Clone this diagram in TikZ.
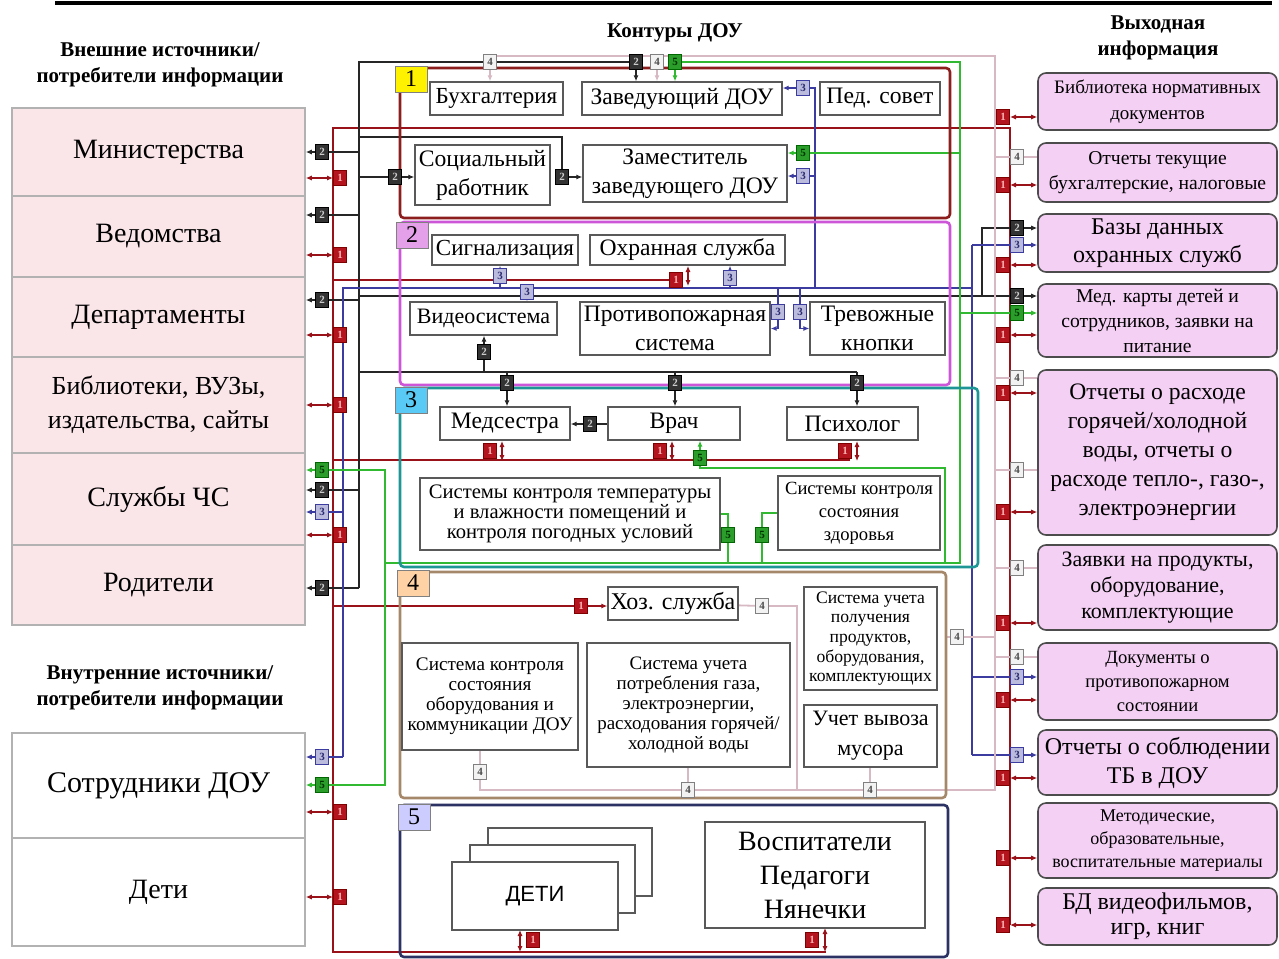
\documentclass[tikz,border=0pt]{standalone}
\usepackage{fontspec}
\setmainfont{Liberation Serif}
\newfontfamily\detifont{Liberation Sans}
\usetikzlibrary{arrows.meta,fit}

\newcommand\fsz[2]{\fontsize{#1}{#2}\selectfont}

\definecolor{srcpink}{RGB}{250,229,233}
\definecolor{outpink}{RGB}{245,208,245}
\definecolor{kred}{RGB}{140,30,30}
\definecolor{kmag}{RGB}{205,85,215}
\definecolor{kteal}{RGB}{30,150,150}
\definecolor{ktan}{RGB}{165,135,105}
\definecolor{knavy}{RGB}{45,50,100}
\definecolor{busred}{RGB}{180,20,30}
\definecolor{busblue}{RGB}{60,60,160}
\definecolor{busgreen}{RGB}{50,185,50}
\definecolor{busgray}{RGB}{215,185,195}

\pgfdeclarelayer{wires}
\pgfsetlayers{wires,main}

\tikzset{
  >={Latex[length=3pt,width=2.6pt]},
  head/.style={align=center, font=\bfseries\fsz{10.5}{13}},
  src/.style={draw=gray!60, line width=0.8pt, fill=srcpink, inner sep=0pt},
  outbox/.style={draw=black!70, line width=0.8pt, rounded corners=4pt, fill=outpink, inner sep=0pt},
  kont/.style={draw, line width=1.3pt, rounded corners=2pt, inner sep=0pt},
  klab/.style={draw=black!50, inner sep=0pt, minimum width=16pt, minimum height=13pt, font=\fsz{12}{12}},
  inbox/.style={draw=black!65, line width=0.7pt, fill=white, inner sep=0pt},
  % тексты в блоках
  srctx/.style={align=center, inner sep=0pt, font=\fsz{14}{17}},
  outtx/.style={align=center, inner sep=0pt},
  intx/.style={align=center, inner sep=0pt, font=\fsz{11.8}{14.5}},
  % метки шин
  tg/.style={draw, line width=0.5pt, inner sep=0pt, minimum width=6.5pt, minimum height=7.5pt, font=\bfseries\fsz{5.5}{6}},
  t1/.style={tg, draw=red!50!black, fill=busred, text=white!70!red},
  t2/.style={tg, draw=black, fill=black!80, text=white!80!black},
  t3/.style={tg, draw=busblue, fill=busblue!35, text=busblue!70!black},
  t4/.style={tg, draw=gray, fill=gray!10, text=black!70},
  t5/.style={tg, draw=green!40!black, fill=busgreen!85!black, text=green!20!black},
  % линии шин
  w1/.style={busred!85!black, line width=1pt},
  w2/.style={black!85, line width=0.9pt},
  w3/.style={busblue, line width=0.9pt},
  w4/.style={busgray, line width=0.9pt},
  w5/.style={busgreen, line width=1pt},
}

\begin{document}
\begin{tikzpicture}[x=0.5pt,y=-0.5pt]
\useasboundingbox (0,0) rectangle (1279,958);
\draw[line width=1.6pt] (55,3) -- (1272,3);

% заголовки
\node[head] (hext) at (160,65) {Внешние источники/\\потребители информации};
\node[head] (hkont) at (675,33) {Контуры ДОУ};
\node[head] (hout) at (1158,38) {Выходная\\информация};
\node[head] (hint) at (160,688) {Внутренние источники/\\потребители информации};

% источники/потребители
\node[src, fit={(12,108) (305,196)}, label={[srctx]center:Министерства}] (min) {};
\node[src, fit={(12,196) (305,277)}, label={[srctx]center:Ведомства}] (ved) {};
\node[src, fit={(12,277) (305,357)}, label={[srctx]center:Департаменты}] (dep) {};
\node[src, fit={(12,357) (305,453)}, label={[srctx, font=\fsz{13}{17}]center:Библиотеки, ВУЗы,\\издательства, сайты}] (bib) {};
\node[src, fit={(12,453) (305,545)}, label={[srctx]center:Службы ЧС}] (mchs) {};
\node[src, fit={(12,545) (305,625)}, label={[srctx]center:Родители}] (rod) {};
\node[src, fill=white, fit={(12,733) (305,838)}, label={[srctx, font=\fsz{15}{17}]center:Сотрудники ДОУ}] (sotr) {};
\node[src, fill=white, fit={(12,838) (305,946)}, label={[srctx]center:Дети}] (deti) {};

% выходная информация
\node[outbox, fit={(1038,73) (1277,130)}, label={[outtx, font=\fsz{9.5}{13}]center:Библиотека нормативных\\документов}] (onorm) {};
\node[outbox, fit={(1038,143) (1277,202)}, label={[outtx, font=\fsz{9.8}{12.5}]center:Отчеты текущие\\бухгалтерские, налоговые}] (obuh) {};
\node[outbox, fit={(1038,214) (1277,272)}, label={[outtx, font=\fsz{12}{14}]center:Базы данных\\охранных служб}] (oohr) {};
\node[outbox, fit={(1038,284) (1277,357)}, label={[outtx, font=\fsz{9.8}{12.5}]center:Мед. карты детей и\\сотрудников, заявки на\\питание}] (omed) {};
\node[outbox, fit={(1038,370) (1277,535)}, label={[outtx, font=\fsz{11.8}{14.5}]center:Отчеты о расходе\\горячей/холодной\\воды, отчеты о\\расходе тепло-, газо-,\\электроэнергии}] (ovod) {};
\node[outbox, fit={(1038,545) (1277,630)}, label={[outtx, font=\fsz{11}{13}]center:Заявки на продукты,\\оборудование,\\комплектующие}] (ozay) {};
\node[outbox, fit={(1038,643) (1277,720)}, label={[outtx, font=\fsz{9.3}{12}]center:Документы о\\противопожарном\\состоянии}] (opozh) {};
\node[outbox, fit={(1038,730) (1277,795)}, label={[outtx, font=\fsz{12}{14.5}]center:Отчеты о соблюдении\\ТБ в ДОУ}] (otb) {};
\node[outbox, fit={(1038,803) (1277,878)}, label={[outtx, font=\fsz{9}{11.5}]center:Методические,\\образовательные,\\воспитательные материалы}] (ometod) {};
\node[outbox, fit={(1038,888) (1277,945)}, label={[outtx, font=\fsz{12}{12.5}]center:БД видеофильмов,\\игр, книг}] (ovid) {};

% контуры
\node[kont, draw=kred, fit={(400,68) (950,218)}] (k1) {};
\node[kont, draw=kmag, fit={(400,222) (950,385)}] (k2) {};
\node[kont, draw=kteal, fit={(400,388) (978,567)}] (k3) {};
\node[kont, draw=ktan, fit={(400,572) (946,798)}] (k4) {};
\node[kont, draw=knavy, fit={(400,805) (948,957)}] (k5) {};
\node[klab, fill=yellow] (n1) at (411,79) {1};
\node[klab, fill=kmag!55] (n2) at (412,235) {2};
\node[klab, fill=cyan!65] (n3) at (411,400) {3};
\node[klab, fill=orange!35] (n4) at (413,583) {4};
\node[klab, fill=blue!20] (n5) at (414,817) {5};

% контур 1
\node[inbox, fit={(430,82) (563,115)}, label={[intx, font=\fsz{11.5}{14}]center:Бухгалтерия}] (buh) {};
\node[inbox, fit={(582,82) (782,115)}, label={[intx]center:Заведующий ДОУ}] (zav) {};
\node[inbox, fit={(820,82) (940,115)}, label={[intx]center:Пед. совет}] (ped) {};
\node[inbox, fit={(415,145) (550,205)}, label={[intx]center:Социальный\\работник}] (soc) {};
\node[inbox, fit={(583,145) (787,202)}, label={[intx]center:Заместитель\\заведующего ДОУ}] (zam) {};
% контур 2
\node[inbox, fit={(432,235) (578,265)}, label={[intx, font=\fsz{11.5}{14}]center:Сигнализация}] (sig) {};
\node[inbox, fit={(590,235) (785,265)}, label={[intx]center:Охранная служба}] (ohr) {};
\node[inbox, fit={(410,302) (557,335)}, label={[intx, font=\fsz{11}{13}]center:Видеосистема}] (vid) {};
\node[inbox, fit={(580,302) (770,355)}, label={[intx]center:Противопожарная\\система}] (pozh) {};
\node[inbox, fit={(810,302) (945,355)}, label={[intx]center:Тревожные\\кнопки}] (trev) {};
% контур 3
\node[inbox, fit={(440,407) (570,440)}, label={[intx]center:Медсестра}] (meds) {};
\node[inbox, fit={(608,407) (740,440)}, label={[intx]center:Врач}] (vrach) {};
\node[inbox, fit={(787,407) (918,440)}, label={[intx]center:Психолог}] (psih) {};
\node[inbox, fit={(420,478) (720,550)}, label={[intx, font=\fsz{10.3}{10}]center:Системы контроля температуры\\и влажности помещений и\\контроля погодных условий}] (stemp) {};
\node[inbox, fit={(778,476) (940,550)}, label={[intx, font=\fsz{9.3}{11.5}]center:Системы контроля\\состояния\\здоровья}] (szdor) {};
% контур 4
\node[inbox, fit={(608,587) (738,620)}, label={[intx, font=\fsz{12}{14}]center:Хоз. служба}] (hoz) {};
\node[inbox, fit={(804,587) (937,690)}, label={[intx, font=\fsz{8.8}{9.8}]center:Система учета\\получения\\продуктов,\\оборудования,\\комплектующих}] (sprod) {};
\node[inbox, fit={(402,643) (578,750)}, label={[intx, font=\fsz{9.6}{10}]center:Система контроля\\состояния\\оборудования и\\коммуникации ДОУ}] (sobor) {};
\node[inbox, fit={(587,643) (790,767)}, label={[intx, font=\fsz{9.5}{10}]center:Система учета\\потребления газа,\\электроэнергии,\\расходования горячей/\\холодной воды}] (sgaz) {};
\node[inbox, fit={(804,705) (937,767)}, label={[intx, font=\fsz{11}{15}]center:Учет вывоза\\мусора}] (smus) {};
% контур 5
\node[inbox, fit={(488,828) (652,896)}] (detiC) {};
\node[inbox, fit={(470,845) (635,913)}] (detiB) {};
\node[inbox, fit={(452,862) (618,930)}, label={[intx, font=\detifont\fsz{11}{13}]center:ДЕТИ}] (detiA) {};
\node[inbox, fit={(705,822) (925,928)}, label={[intx, font=\fsz{14}{17}]center:Воспитатели\\Педагоги\\Нянечки}] (vosp) {};

% ---- метки ----
% 1
\foreach \n/\y in {a/178,b/255,c/335,d/405,e/535,f/812,g/897}
  \node[t1] (ra\n) at (340,\y) {1};
\foreach \n/\y in {a/117,b/185,c/265,d/335,e/393,f/512,g/623,h/700,i/778,j/858,k/925}
  \node[t1] (rb\n) at (1003,\y) {1};
\foreach \n/\x in {a/490,b/660,c/845}
  \node[t1] (rc\n) at (\x,451) {1};
\node[t1] (rohr) at (676,280) {1};
\node[t1] (rhoz) at (581,606) {1};
\node[t1] (rdet) at (533,940) {1};
\node[t1] (rvos) at (812,940) {1};
% 2
\foreach \n/\y in {a/152,b/215,c/300,d/490,e/588}
  \node[t2] (ka\n) at (322,\y) {2};
\node[t2] (kz) at (636,62) {2};
\node[t2] (ks) at (395,177) {2};
\node[t2] (kzm) at (562,177) {2};
\node[t2] (kohr) at (1017,228) {2};
\node[t2] (kmed) at (1017,296) {2};
\node[t2] (kv) at (484,352) {2};
\foreach \n/\x in {a/507,b/675,c/857}
  \node[t2] (kc\n) at (\x,383) {2};
\node[t2] (kmv) at (590,424) {2};
% 3
\node[t3] (baa) at (322,512) {3};
\node[t3] (bab) at (322,757) {3};
\foreach \n/\y in {a/245,b/677,c/755}
  \node[t3] (bb\n) at (1017,\y) {3};
\node[t3] (bz) at (803,88) {3};
\node[t3] (bzm) at (803,176) {3};
\node[t3] (bsig) at (500,276) {3};
\node[t3] (bvid) at (527,292) {3};
\node[t3] (bohr) at (730,278) {3};
\node[t3] (bpz) at (778,312) {3};
\node[t3] (btr) at (800,312) {3};
% 4
\node[t4] (wbuh) at (490,62) {4};
\node[t4] (wzav) at (657,62) {4};
\foreach \n/\y in {a/157,b/378,c/470,d/568,e/657}
  \node[t4] (wr\n) at (1017,\y) {4};
\node[t4] (whoz) at (762,606) {4};
\node[t4] (wk) at (957,637) {4};
\node[t4] (wso) at (480,772) {4};
\node[t4] (wsg) at (688,790) {4};
\node[t4] (wsm) at (870,790) {4};
% 5
\node[t5] (gaa) at (322,470) {5};
\node[t5] (gab) at (322,785) {5};
\node[t5] (gz) at (675,62) {5};
\node[t5] (gzm) at (803,153) {5};
\node[t5] (gmed) at (1017,313) {5};
\node[t5] (gv) at (700,458) {5};
\node[t5] (gt) at (728,535) {5};
\node[t5] (gs) at (762,535) {5};

\begin{pgfonlayer}{wires}
% шина 1
\coordinate (rA) at (333,128);
\coordinate (rB) at (1010,128);
\coordinate (rC) at (333,952);
\coordinate (rD) at (1010,925);
\coordinate (rE) at (850,460);
\coordinate (rF) at (826,952);
\draw[w1] (rD) -- (rB) -- (rA) -- (rC) -- (rF);
\draw[w1] (rE -| rA) -- (rE);
\draw[w1] (rohr -| rA) -- (rohr);
\draw[w1] (rhoz -| rA) -- (rhoz);
\draw[w1,->] (rhoz) -- (rhoz -| hoz.west);
\foreach \n/\b in {a/min,b/ved,c/dep,d/bib,e/mchs,f/sotr,g/deti}
  \draw[w1,<->] (\b.east |- ra\n) -- (ra\n);
\foreach \n/\b in {a/onorm,b/obuh,c/oohr,d/omed,e/ovod,f/ovod,g/ozay,h/opozh,i/otb,j/ometod,k/ovid}
  \draw[w1,<->] (rb\n) -- (rb\n -| \b.west);
\foreach \n in {a,b,c}
  \draw[w1,<->] (rc\n.east) ++(2.5pt,5pt) -- ++(0,-10pt);
\draw[w1,<->] (rohr.east) ++(2.5pt,7pt) -- ++(0,-10pt);
\draw[w1,<->] (rdet.west) ++(-3pt,5pt) -- ++(0,-11pt);
\draw[w1,<->] (rvos.east) ++(3pt,6pt) -- ++(0,-12pt);

% шина 2
\coordinate (kA) at (359,62);
\coordinate (kB) at (359,588);
\coordinate (kT) at (359,137);
\coordinate (kR) at (982,296);
\coordinate (kL) at (359,372);
\coordinate (kM) at (857,372);
\draw[w2] (kz) -- (kA) -- (kB);
\draw[w2,->] (kz) -- (kz |- zav.north);
\foreach \n/\b in {a/min,b/ved,c/dep,d/mchs,e/rod} {
  \draw[w2] (ka\n) -- (ka\n -| kA);
  \draw[w2,->] (ka\n) -- (ka\n -| \b.east);
}
\draw[w2] (kT) -| (kzm);
\draw[w2,->] (kzm) -- (kzm -| zam.west);
\draw[w2] (ks -| kA) -- (ks);
\draw[w2,->] (ks) -- (ks -| soc.west);
\draw[w2] (kmed -| kA) -- (kmed);
\draw[w2,->] (kmed) -- (kmed -| omed.west);
\draw[w2] (kR) |- (kohr);
\draw[w2,->] (kohr) -- (kohr -| oohr.west);
\draw[w2] (kL) -- (kM);
\draw[w2,->] (kv |- kL) -- (kv |- vid.south);
\foreach \n/\b in {a/meds,b/vrach,c/psih}
  \draw[w2,->] (kc\n |- kL) -- (kc\n |- \b.north);
\draw[w2,->] (vrach.west |- kmv) -- (meds.east |- kmv);

% шина 3
\coordinate (bA) at (343,288);
\coordinate (bB) at (972,288);
\coordinate (bT) at (815,288);
\draw[w3] (bab -| bA) -- (bA) -- (bB);
\draw[w3] (bba -| bB) -- (bbc -| bB);
\foreach \n/\b in {a/mchs,b/sotr} {
  \draw[w3] (ba\n) -- (ba\n -| bA);
  \draw[w3,->] (ba\n) -- (ba\n -| \b.east);
}
\foreach \n/\b in {a/oohr,b/opozh,c/otb} {
  \draw[w3] (bb\n -| bB) -- (bb\n);
  \draw[w3,->] (bb\n) -- (bb\n -| \b.west);
}
\draw[w3] (bT) |- (bz);
\draw[w3] (bT |- bzm) -- (bzm);
\draw[w3,->] (bz) -- (bz -| zav.east);
\draw[w3,->] (bzm) -- (bzm -| zam.east);
\draw[w3,->] (bsig |- bA) -- (bsig |- sig.south);
\draw[w3,->] (bvid |- bA) -- (bvid |- vid.north);
\draw[w3,->] (bohr |- bA) -- (bohr |- ohr.south);
\draw[w3,->] (bpz |- bA) -- (bpz) |- (pozh.east);
\draw[w3,->] (btr |- bA) -- (btr) |- (trev.west);

% шина 4
\coordinate (wA) at (490,56);
\coordinate (wB) at (995,56);
\coordinate (wC) at (995,790);
\coordinate (wD) at (480,790);
\coordinate (wE) at (797,606);
\draw[w4] (wA) -- (wB) -- (wC) -- (wD) -- (wso);
\draw[w4,->] (wbuh) -- (wbuh |- buh.north);
\draw[w4,->] (wzav |- wA) -- (wzav |- zav.north);
\foreach \n/\b in {a/obuh,b/ovod,c/ovod,d/ozay,e/opozh}
  \draw[w4] (wr\n -| wB) -- (wr\n) -- (wr\n -| \b.west);
\draw[w4] (hoz) -- (whoz) -- (wE) -- (wE |- wC);
\draw[w4] (k4.east |- wk) -- (wk) -- (wk -| wB);
\draw[w4] (sobor.south -| wso) -- (wso);
\draw[w4] (sgaz.south -| wsg) -- (wsg);
\draw[w4] (smus.south -| wsm) -- (wsm);

% шина 5
\coordinate (gA) at (385,470);
\coordinate (gB) at (385,563);
\coordinate (gC) at (960,563);
\coordinate (gD) at (960,62);
\coordinate (gE) at (945,468);
\draw[w5] (gab) -- (gab -| gA) -- (gA) -- (gaa);
\draw[w5] (gB) -- (gC) -- (gD) -- (gz);
\foreach \n/\b in {a/mchs,b/sotr}
  \draw[w5,->] (ga\n) -- (ga\n -| \b.east);
\draw[w5,->] (gz) -- (gz |- zav.north);
\draw[w5] (gzm -| gD) -- (gzm);
\draw[w5,->] (gzm) -- (gzm -| zam.east);
\draw[w5] (gmed -| gD) -- (gmed);
\draw[w5,->] (gmed) -- (gmed -| omed.west);
\draw[w5,->] (gv) -- (gv |- vrach.south);
\draw[w5] (gv) |- (gE) -- (gE |- gC);
\draw[w5] (stemp.east) -| (gt) -- (gt |- gC);
\draw[w5] (szdor.west) -| (gs) -- (gs |- gC);
\end{pgfonlayer}
\end{tikzpicture}
\end{document}
